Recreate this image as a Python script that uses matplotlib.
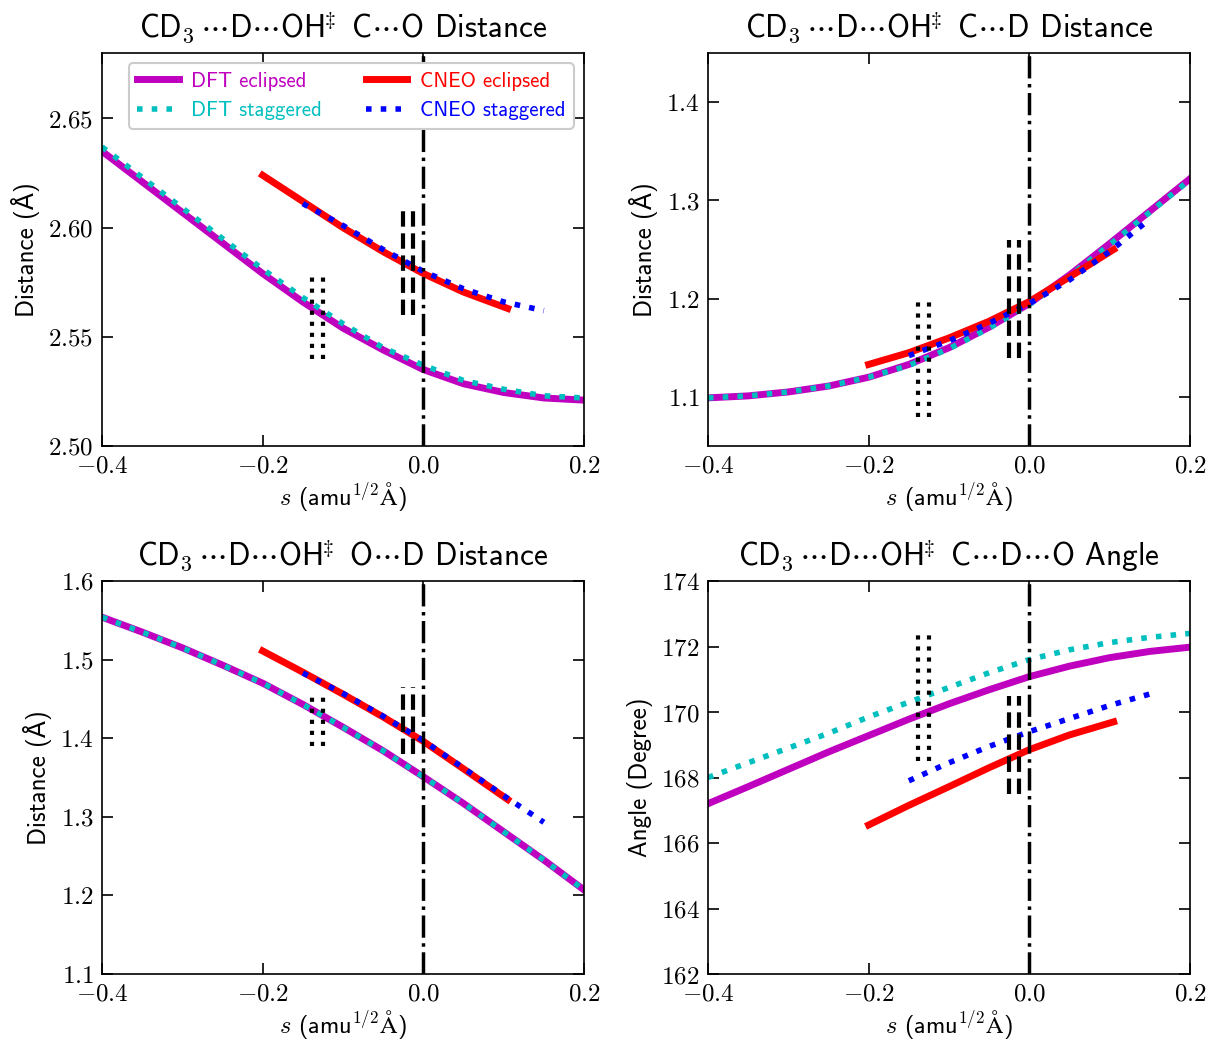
import matplotlib
matplotlib.use('Agg')
import matplotlib.pyplot as plt
from matplotlib.ticker import FuncFormatter, MultipleLocator

plt.rcParams['font.family'] = ['cmss10', 'DejaVu Sans']
plt.rcParams['mathtext.fontset'] = 'cm'
plt.rcParams['axes.unicode_minus'] = False

# ---------------- data ----------------
s_dft = [-0.4, -0.35, -0.3, -0.25, -0.2, -0.15, -0.1, -0.05, 0.0, 0.05, 0.1, 0.15, 0.2]
s_cneo_ecl = [-0.2, -0.15, -0.1, -0.05, 0.0, 0.05, 0.105]
s_cneo_stg = [-0.15, -0.1, -0.05, 0.0, 0.05, 0.1, 0.15]

# C...O distance
co_dft_ecl = [2.635, 2.621, 2.607, 2.593, 2.579, 2.566, 2.554, 2.544, 2.535, 2.5285, 2.5245, 2.522, 2.521]
co_dft_stg = [2.637, 2.623, 2.609, 2.595, 2.581, 2.568, 2.556, 2.545, 2.537, 2.530, 2.526, 2.523, 2.522]
co_cneo_ecl = [2.624, 2.612, 2.600, 2.589, 2.579, 2.5705, 2.563]
co_cneo_stg = [2.611, 2.601, 2.590, 2.580, 2.572, 2.566, 2.562]

# C...D distance
cd_dft_ecl = [1.099, 1.101, 1.105, 1.111, 1.120, 1.133, 1.150, 1.171, 1.195, 1.224, 1.256, 1.289, 1.322]
cd_dft_stg = [1.099, 1.101, 1.105, 1.111, 1.120, 1.132, 1.149, 1.170, 1.194, 1.223, 1.255, 1.288, 1.321]
cd_cneo_ecl = [1.133, 1.145, 1.160, 1.177, 1.197, 1.222, 1.250]
cd_cneo_stg = [1.142, 1.157, 1.175, 1.195, 1.219, 1.248, 1.281]

# O...D distance
od_dft_ecl = [1.554, 1.535, 1.515, 1.493, 1.470, 1.443, 1.414, 1.384, 1.351, 1.317, 1.281, 1.245, 1.207]
od_dft_stg = [1.554, 1.535, 1.515, 1.493, 1.470, 1.443, 1.414, 1.384, 1.351, 1.317, 1.281, 1.245, 1.207]
od_cneo_ecl = [1.511, 1.484, 1.456, 1.427, 1.396, 1.361, 1.322]
od_cneo_stg = [1.483, 1.457, 1.428, 1.397, 1.362, 1.327, 1.293]

# C...D...O angle
ang_dft_ecl = [167.2, 167.72, 168.25, 168.78, 169.28, 169.78, 170.25, 170.68, 171.08, 171.4, 171.66, 171.85, 171.98]
ang_dft_stg = [168.0, 168.45, 168.9, 169.35, 169.85, 170.3, 170.75, 171.2, 171.6, 171.9, 172.12, 172.28, 172.4]
ang_cneo_ecl = [166.55, 167.15, 167.72, 168.3, 168.85, 169.3, 169.7]
ang_cneo_stg = [167.9, 168.45, 168.95, 169.4, 169.8, 170.2, 170.55]

# TS-position markers (s positions) and their vertical extents per panel
s_dotted = [-0.138, -0.125]
s_dashed = [-0.025, -0.013]
dotted_span = [(2.54, 2.58), (1.08, 1.20), (1.39, 1.46), (168.5, 172.5)]
dashed_span = [(2.56, 2.61), (1.14, 1.26), (1.38, 1.465), (167.5, 170.5)]

head = r'$\mathsf{CD}_3\,\cdots\mathsf{D}\cdots\mathsf{OH}^{\!\!\ddagger}$ '
titles = [head + r'C$\cdots$O Distance',
          head + r'C$\cdots$D Distance',
          head + r'O$\cdots$D Distance',
          head + r'C$\cdots$D$\cdots$O Angle']
ylabels = ['Distance (Å)', 'Distance (Å)', 'Distance (Å)', 'Angle (Degree)']
ylims = [(2.50, 2.68), (1.05, 1.45), (1.1, 1.6), (162, 174)]
ysteps = [0.05, 0.1, 0.1, 2]
yfmt = ['{:.2f}', '{:.1f}', '{:.1f}', '{:.0f}']
xticks = [-0.4, -0.2, 0.0, 0.2]
legend_colors = ['m', 'c', 'r', 'b']

panels = [
    (co_dft_ecl, co_dft_stg, co_cneo_ecl, co_cneo_stg),
    (cd_dft_ecl, cd_dft_stg, cd_cneo_ecl, cd_cneo_stg),
    (od_dft_ecl, od_dft_stg, od_cneo_ecl, od_cneo_stg),
    (ang_dft_ecl, ang_dft_stg, ang_cneo_ecl, ang_cneo_stg),
]

W, H = 1208, 1042
fig = plt.figure(figsize=(W / 100, H / 100), dpi=100)
boxes = [(102, 53), (708, 53), (102, 581), (708, 581)]
aw, ah = 482, 393


def xf(v, p):
    if abs(v) < 1e-9:
        return '$0.0$'
    return '$%.1f$' % v


for i, (x0, y0) in enumerate(boxes):
    ax = fig.add_axes([x0 / W, 1 - (y0 + ah) / H, aw / W, ah / H])
    de, ds, ce, cs = panels[i]
    l1, = ax.plot(s_dft, de, '-', color='m', lw=5, label='DFT eclipsed')
    l2, = ax.plot(s_dft, ds, ':', color='c', lw=4, label='DFT staggered')
    l3, = ax.plot(s_cneo_ecl, ce, '-', color='r', lw=5, label='CNEO eclipsed')
    l4, = ax.plot(s_cneo_stg, cs, ':', color='b', lw=4, label='CNEO staggered')
    ax.axvline(0.0, color='k', ls='-.', lw=2.5)
    ax.vlines(s_dotted, dotted_span[i][0], dotted_span[i][1], colors='k', linestyles=':', lw=3)
    ax.vlines(s_dashed, dashed_span[i][0], dashed_span[i][1], colors='k', linestyles='--', lw=3)

    ax.set_xlim(-0.4, 0.2)
    ax.set_ylim(*ylims[i])
    ax.set_xticks(xticks)
    ax.yaxis.set_major_locator(MultipleLocator(ysteps[i]))
    ax.xaxis.set_major_formatter(FuncFormatter(xf))
    f = yfmt[i]
    ax.yaxis.set_major_formatter(FuncFormatter(lambda v, p, f=f: '$' + f.format(v) + '$'))
    ax.tick_params(direction='in', length=8, width=1.2, top=True, right=True, labelsize=18, pad=6)
    for sp in ax.spines.values():
        sp.set_linewidth(1.2)
    ax.set_title(titles[i], fontsize=22.5, pad=11)
    ax.set_ylabel(ylabels[i], fontsize=18, labelpad=6)
    ax.set_xlabel(r'$s$ (amu$^{1/2}\mathrm{\AA}$)', fontsize=17.5, labelpad=2)

    if i == 0:
        leg = ax.legend(handles=[l1, l2, l3, l4], loc='upper right', ncol=2, fontsize=15,
                        handlelength=2.0, handletextpad=0.6, columnspacing=2.1,
                        fancybox=True, framealpha=1, edgecolor='#cccccc')
        leg.get_frame().set_linewidth(1.5)
        for txt, c in zip(leg.get_texts(), legend_colors):
            txt.set_color(c)

fig.savefig('out.png', dpi=100)
